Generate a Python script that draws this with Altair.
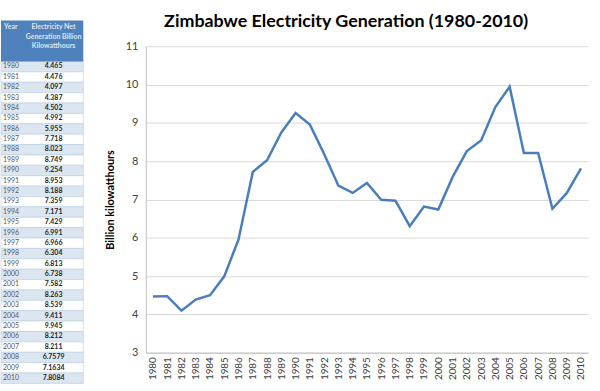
import altair as alt
import pandas as pd

years = list(range(1980, 2011))
gen = [4.465, 4.476, 4.097, 4.387, 4.502, 4.992, 5.955, 7.718, 8.023, 8.749,
       9.254, 8.953, 8.188, 7.359, 7.171, 7.429, 6.991, 6.966, 6.304, 6.813,
       6.738, 7.582, 8.263, 8.539, 9.411, 9.945, 8.212, 8.211, 6.7579, 7.1634,
       7.8084]
header_year = "Year"
header_value = ["Electricity Net", "Generation Billion", "Kilowatthours"]
chart_title = "Zimbabwe Electricity Generation (1980-2010)"
y_title = "Billion kilowatthours"
y_ticks = [3, 4, 5, 6, 7, 8, 9, 10, 11]

HEADER_ROWS = 3.95
FONT = "Lato"

df = pd.DataFrame({"year": [str(y) for y in years], "gen": gen})
df["row"] = range(len(df))
df["row2"] = df["row"] + 1
df["label"] = [str(v) for v in gen]
df["shade"] = ["a" if r % 2 == 0 else "b" for r in df["row"]]

hdr = pd.DataFrame({"start": [-HEADER_ROWS], "end": [0.0]})

TW = 83
PLOT_H = 309
# table drawn from 26px above the plot top to 31px below the plot bottom
yscale = alt.Scale(domain=[-HEADER_ROWS, len(years)], range=[-26, PLOT_H + 31], nice=False, zero=False)

rows = alt.Chart(df).mark_rect(stroke="#B8CCE4", strokeWidth=0.6).encode(
    x=alt.value(0), x2=alt.value(TW),
    y=alt.Y("row:Q", scale=yscale, axis=None),
    y2="row2:Q",
    color=alt.Color("shade:N", scale=alt.Scale(domain=["a", "b"], range=["#DCE6F1", "#FFFFFF"]), legend=None),
)
head = alt.Chart(hdr).mark_rect(color="#4F81BD").encode(
    x=alt.value(0), x2=alt.value(TW),
    y=alt.Y("start:Q", scale=yscale, axis=None), y2="end:Q",
)
head_year = alt.Chart(hdr).mark_text(align="left", baseline="top", font=FONT, fontSize=7,
                                     fontWeight="bold", color="#DCE6F1", dx=3, dy=3).encode(
    x=alt.value(0), y=alt.Y("start:Q", scale=yscale, axis=None), text=alt.value(header_year))
head_val = alt.Chart(hdr).mark_text(align="center", baseline="top", font=FONT, fontSize=7,
                                    fontWeight="bold", color="#DCE6F1", lineHeight=9.5, dy=3).encode(
    x=alt.value(53), y=alt.Y("start:Q", scale=yscale, axis=None), text=alt.value(header_value))
year_txt = alt.Chart(df).mark_text(align="left", baseline="middle", font=FONT, fontSize=7,
                                   color="#595959", dy=5).encode(
    x=alt.value(2), y=alt.Y("row:Q", scale=yscale, axis=None), text="year:N")
val_txt = alt.Chart(df).mark_text(align="center", baseline="middle", font=FONT, fontSize=7,
                                  fontWeight="bold", color="#262626", dy=5).encode(
    x=alt.value(53), y=alt.Y("row:Q", scale=yscale, axis=None), text="label:N")

table = alt.layer(rows, head, head_year, head_val, year_txt, val_txt).properties(width=TW, height=PLOT_H)

line = alt.Chart(df).mark_line(color="#4A7EBB", strokeWidth=2.5).encode(
    x=alt.X("year:O", scale=alt.Scale(type="point", padding=0.5),
            axis=alt.Axis(title=None, labelAngle=-90, labelFont=FONT, labelFontSize=10,
                          labelColor="#404040", domainColor="#BFBFBF", ticks=False,
                          labelPadding=4, grid=False)),
    y=alt.Y("gen:Q", scale=alt.Scale(domain=[3, 11], nice=False),
            axis=alt.Axis(title=y_title, values=y_ticks, titleFont=FONT, titleFontSize=11,
                          titleFontWeight="bold", titleColor="#000000", labelFont=FONT,
                          labelFontSize=11, labelColor="#404040", domainColor="#BFBFBF",
                          gridColor="#D9D9D9", ticks=False, labelPadding=8, titlePadding=10)),
).properties(
    width=446, height=PLOT_H,
    title=alt.Title(chart_title, font=FONT, fontSize=18, fontWeight="bold", color="#000000",
                    offset=9, dx=-21),
)

chart = alt.hconcat(table, line, spacing=20).properties(
    padding={"left": 0, "top": 12, "right": 12, "bottom": 0}
).configure_view(stroke=None)

chart.save("out.html", embed_options={"renderer": "svg", "actions": False})
